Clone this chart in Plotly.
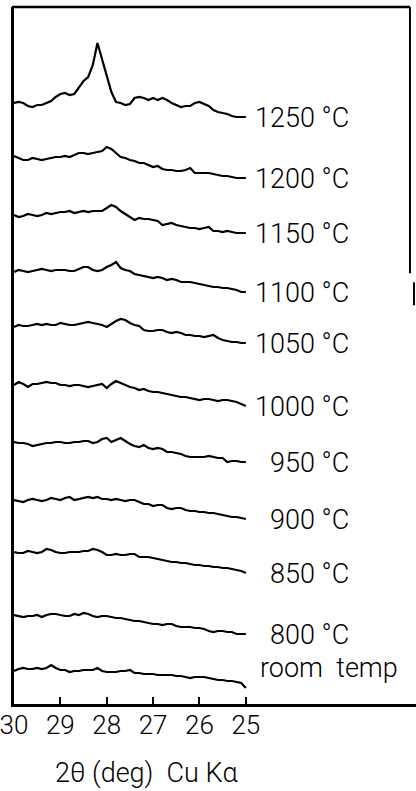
import plotly.graph_objects as go

# 2-theta sampling grid (deg), read every 0.1 deg from 30 down to 25
two_theta = [round(30 - 0.1 * k, 1) for k in range(51)]

labels = ["1250 °C", "1200 °C", "1150 °C", "1100 °C", "1050 °C", "1000 °C",
          "950 °C", "900 °C", "850 °C", "800 °C", "room  temp"]

# stacking offsets of each pattern (a.u.)
offsets = [601, 548, 489, 432, 377, 319, 262, 204, 152, 89, 33]

# relative intensities (a.u.)
i1250 = [0, 1, 0, -3, -4, -2, -2, 0, 2, 6, 9, 10, 8, 9, 15, 22, 26, 38, 60, 43, 28, 11, 1, 0, -2, -1,
         5, 6, 5, 3, 5, 3, 5, 3, 0, -2, -4, -3, -3, 0, 1, -1, -3, -7, -9, -10, -11, -13, -14, -14, -14]
i1200 = [0, -2, -4, -4, -2, -3, -4, -3, -2, -1, -1, 0, -1, 1, 3, 3, 2, 3, 4, 5, 9, 7, 3, -1, -2, -4,
         -5, -7, -7, -9, -11, -10, -13, -14, -14, -15, -15, -14, -12, -17, -17, -17, -17, -18, -19, -20,
         -20, -21, -22, -22, -22]
i1150 = [0, -2, -1, 1, 0, -1, 0, 2, 1, 2, 3, 3, 4, 2, 3, 4, 3, 4, 4, 4, 7, 10, 8, 4, 1, -2, -5, -3, -4,
         -4, -5, -6, -10, -9, -8, -10, -11, -12, -13, -13, -14, -13, -12, -16, -16, -17, -16, -17, -18,
         -18, -18]
i1100 = [0, 2, 1, 0, 1, 2, 3, 2, 1, 2, 2, 2, 1, 1, 3, 5, 5, 2, 1, 2, 5, 7, 10, 4, 2, 1, -2, -3, -4, -5,
         -6, -5, -6, -8, -7, -8, -10, -10, -10, -11, -12, -13, -14, -15, -15, -16, -16, -17, -18, -20, -20]
i1050 = [0, 2, 1, 1, 2, 3, 2, 3, 2, 2, 4, 3, 2, 2, 3, 4, 5, 4, 3, 2, 0, 3, 6, 8, 7, 4, 2, 1, -3, -4, -4,
         -3, -3, -5, -6, -5, -6, -8, -8, -9, -9, -10, -9, -8, -11, -13, -14, -15, -15, -16, -16]
i1000 = [0, 3, 1, -2, 1, 1, 2, 3, 2, 2, 0, 0, -1, 0, 0, -1, -2, -1, 0, 1, -3, 1, 4, 2, 0, -2, -3, -5, -4,
         -6, -7, -7, -8, -9, -10, -11, -12, -12, -13, -14, -15, -14, -14, -15, -16, -15, -15, -16, -17,
         -19, -21]
i950 = [0, -1, -1, -2, -4, -3, -2, -1, -1, 0, 0, -1, -1, 0, 0, 1, 1, -1, 0, 3, 4, 0, 2, 4, 1, -2, -4, -5,
        -3, -6, -7, -6, -7, -10, -10, -11, -12, -14, -15, -15, -15, -15, -14, -15, -16, -16, -20, -19,
        -19, -20, -20]
i900 = [0, -1, -2, 0, 1, 0, -1, 0, 2, 1, 0, 2, 3, 0, 1, 2, 3, 2, 3, 1, 1, 0, 1, 0, -1, 0, 0, -2, -4, -4,
        -6, -5, -5, -8, -9, -8, -8, -10, -11, -11, -12, -12, -13, -13, -14, -15, -16, -17, -17, -18, -19]
i850 = [0, -1, -1, 1, 0, -1, 0, 3, 2, 0, -1, -1, 0, 0, 0, 1, 1, 3, 2, 0, -3, -3, -2, -3, -3, -2, -2, -5,
        -5, -5, -6, -7, -8, -9, -10, -10, -11, -11, -12, -13, -13, -14, -14, -15, -15, -16, -16, -17,
        -18, -19, -21]
i800 = [0, -1, -2, -1, -1, 0, -2, 0, 1, 1, 0, -1, -1, 1, 0, 2, 1, -1, -2, -1, -1, -2, -3, -3, -4, -5,
        -6, -6, -7, -8, -9, -9, -10, -9, -9, -11, -12, -12, -12, -13, -13, -14, -16, -17, -16, -16, -17,
        -17, -19, -19, -19]
iroom = [0, 2, 3, 2, 2, 3, 2, 3, 6, 3, 1, 1, -1, 0, 0, 1, 1, 1, 3, 0, -1, -1, -1, 0, 0, 1, -2, -2, -3,
         -3, -3, -4, -4, -4, -4, -5, -5, -6, -7, -6, -6, -6, -7, -8, -9, -9, -10, -10, -11, -12, -17]

series = [i1250, i1200, i1150, i1100, i1050, i1000, i950, i900, i850, i800, iroom]

tick_vals = [30, 29, 28, 27, 26, 25]
tick_text = ["30", "29", "28", "27", "26", "25"]

FONT = "Roboto, sans-serif"

fig = go.Figure()
annotations = []
for lab, off, vals in zip(labels, offsets, series):
    ys = [off + v for v in vals]
    fig.add_trace(go.Scatter(x=two_theta, y=ys, mode="lines",
                             line=dict(color="black", width=2.2), hoverinfo="skip",
                             showlegend=False))
    is_room = lab.startswith("room")
    annotations.append(dict(x=21.68 if is_room else 22.74,
                            y=ys[-1] + (20 if is_room else -1),
                            xref="x", yref="y", text=lab, showarrow=False,
                            xanchor="right", yanchor="middle",
                            font=dict(family=FONT, size=27, color="black", weight=300)))

annotations.append(dict(x=0.331, y=0, xref="paper", yref="paper", xanchor="center",
                        yanchor="top", yshift=-51, text="2θ (deg)  Cu Kα", showarrow=False,
                        font=dict(family=FONT, size=27, color="black", weight=300)))

shapes = [
    dict(type="line", xref="paper", yref="paper", x0=-0.005, x1=0.985, y0=1, y1=1,
         line=dict(color="black", width=2.5)),
    dict(type="line", xref="paper", yref="paper", x0=0.985, x1=0.985, y0=1, y1=0.618,
         line=dict(color="black", width=2)),
    dict(type="line", xref="paper", yref="paper", x0=0.995, x1=0.995, y0=0.605, y1=0.572,
         line=dict(color="black", width=2)),
]

fig.update_layout(
    width=416, height=791,
    margin=dict(l=12, r=0, t=7, b=87),
    paper_bgcolor="white", plot_bgcolor="white",
    annotations=annotations, shapes=shapes,
    xaxis=dict(range=[30, 30 - 404 / 46.6], tickvals=tick_vals, ticktext=tick_text,
               ticks="inside", ticklen=7, tickwidth=2, tickcolor="black",
               ticklabeloverflow="allow", ticklabelstandoff=-4,
               showline=True, linecolor="black", linewidth=2.5,
               showgrid=False, zeroline=False,
               tickfont=dict(family=FONT, size=26, color="black", weight=300)),
    yaxis=dict(range=[0, 697], showticklabels=False, ticks="",
               showline=True, linecolor="black", linewidth=2.5,
               showgrid=False, zeroline=False),
)

fig.write_html("out.html")
